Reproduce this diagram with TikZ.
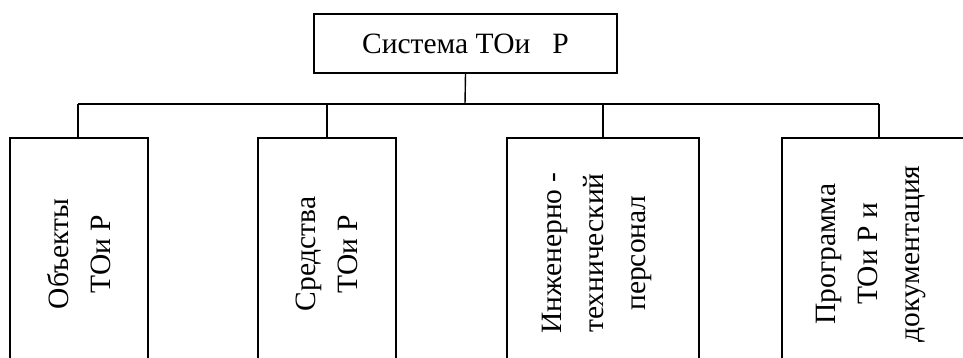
\documentclass[tikz,border=0pt]{standalone}
\usepackage{fontspec}
\setmainfont{Liberation Serif}
\begin{document}
\begin{tikzpicture}[x=1pt,y=-1pt,
  boxline/.style={draw=black,line width=1.4pt},
  topbox/.style={boxline,rectangle,inner sep=0pt,minimum width=303pt,minimum height=59pt,font=\fontsize{29.5}{34}\selectfont},
  lowbox/.style={boxline,rectangle,inner sep=0pt},
  vtext/.style={rotate=90,align=center,inner sep=0pt,font=\fontsize{29.5}{42}\selectfont},
  conn/.style={draw=black,line width=1.4pt}]
\useasboundingbox (0,0) rectangle (963,358);
\clip (0,0) rectangle (963,358);
\node[topbox] (top) at (465.5,43.5) {Система ТОи\ \ \ Р};
\coordinate (bus) at (465,104);
\coordinate (busL) at (78,104);
\coordinate (busR) at (879,104);
\node[lowbox,minimum width=138pt,minimum height=240pt] (b1) at (79,258) {};
\node[lowbox,minimum width=138pt,minimum height=240pt] (b2) at (327,258) {};
\node[lowbox,minimum width=192pt,minimum height=240pt] (b3) at (603,258) {};
\node[lowbox,minimum width=240pt,minimum height=240pt] (b4) at (902,258) {};
\node[vtext] (t1) at (79,254) {Объекты\\ТОи Р};
\node[vtext] (t2) at (327,254) {Средства\\ТОи Р};
\node[vtext] (t3) at (597,253) {Инженерно -\\технический\\персонал};
\node[vtext] (t4) at (871,254) {Программа\\ТОи Р и\\документация};
\draw[conn] (top.south) -- (bus);
\draw[conn] (busL) -- (busR);
\draw[conn] (busL) -- (busL |- b1.north);
\draw[conn] (bus -| b2.north) -- (b2.north);
\draw[conn] (bus -| b3.north) -- (b3.north);
\draw[conn] (busR) -- (busR |- b4.north);
\end{tikzpicture}
\end{document}
